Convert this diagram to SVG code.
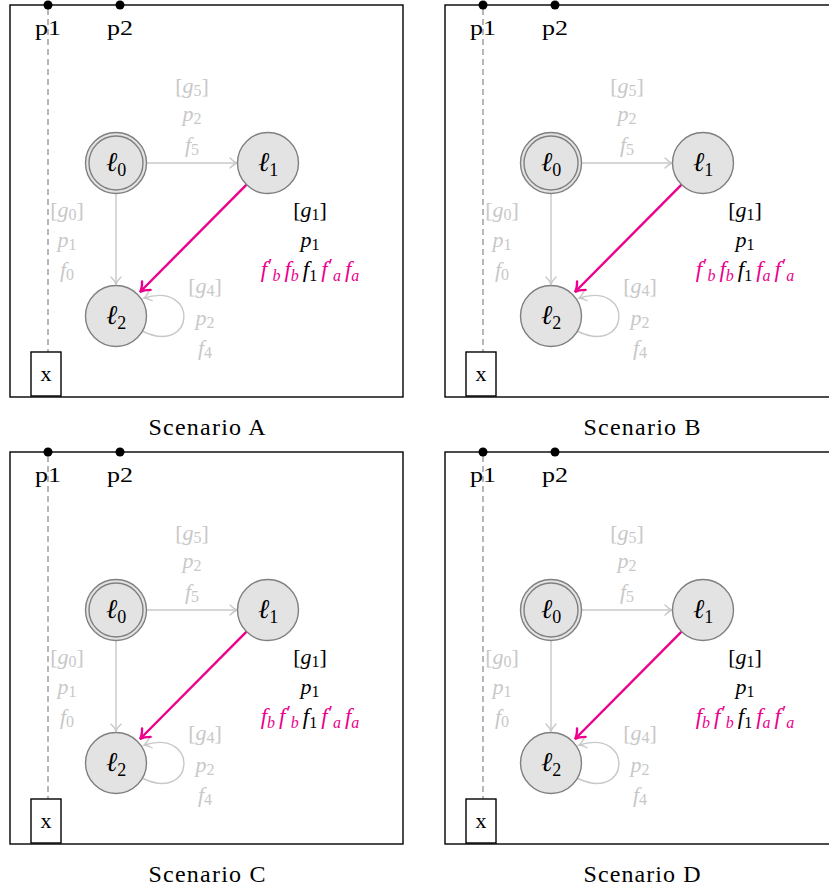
<svg xmlns="http://www.w3.org/2000/svg" width="829" height="892" viewBox="0 0 829 892">
  <style>
    .frame { fill: none; stroke: #000; stroke-width: 1.4; }
    .pin { fill: #000; }
    .rm { font-family: "Liberation Serif", "DejaVu Serif", serif; font-size: 22px; fill: #000; text-anchor: middle; }
    .cap { font-family: "Liberation Serif", "DejaVu Serif", serif; font-size: 24px; fill: #000; text-anchor: middle; }
    .life { stroke: #999; stroke-width: 1.4; stroke-dasharray: 6 4; fill: none; }
    .xbox { fill: #fff; stroke: #000; stroke-width: 1.4; }
    .loc circle { fill: #e3e3e3; stroke: #808080; stroke-width: 1.4; }
    .loc .ring { fill: none; }
    .nm { font-family: "Liberation Serif", "DejaVu Serif", serif; font-size: 27px; fill: #000; text-anchor: middle; }
    .nm .sb { font-size: 18px; }
    .it { font-style: italic; }
    .sb { font-size: 16px; font-style: normal; }
    .sbi { font-size: 16px; font-style: italic; }
    .pr { font-size: 20px; font-style: normal; }
    .lbl { font-family: "Liberation Serif", "DejaVu Serif", serif; font-size: 22px; text-anchor: middle; }
    .fx { font-size: 23px; }
    .dim { fill: #c8c8c8; }
    .blk { fill: #000; }
    .mag { fill: #ec008c; }
    .edge { fill: none; stroke: #c8c8c8; stroke-width: 1.4; marker-end: url(#tip-gray); }
    .hot { fill: none; stroke: #ec008c; stroke-width: 2.4; marker-end: url(#tip-mag); }
  </style>
  <defs>
    <marker id="tip-gray" markerUnits="userSpaceOnUse" viewBox="-10 -7 12 14" markerWidth="12" markerHeight="14" refX="0" refY="0" orient="auto">
      <path d="M -7,-5 Q -3,-1 0,0 Q -3,1 -7,5" fill="none" stroke="#c8c8c8" stroke-width="1.4" stroke-linecap="round"/>
    </marker>
    <marker id="tip-mag" markerUnits="userSpaceOnUse" viewBox="-12 -8 14 16" markerWidth="14" markerHeight="16" refX="0" refY="0" orient="auto">
      <path d="M -9,-6 Q -4,-1 0,0 Q -4,1 -9,6" fill="none" stroke="#ec008c" stroke-width="2.4" stroke-linecap="round"/>
    </marker>
  </defs>

  <!-- Scenario A -->
  <g id="scenario-a" transform="translate(10,5)">
    <rect class="frame" x="0" y="0" width="393" height="392"/>
    <path class="life" d="M38,4 V347"/>
    <circle class="pin" cx="38" cy="0" r="4.5"/>
    <circle class="pin" cx="110" cy="0" r="4.5"/>
    <text class="rm" x="38" y="30" textLength="26" lengthAdjust="spacingAndGlyphs">p1</text>
    <text class="rm" x="110" y="30" textLength="26" lengthAdjust="spacingAndGlyphs">p2</text>
    <g id="a-x"><rect class="xbox" x="21" y="347" width="30" height="44"/><text class="rm" x="36" y="376">x</text></g>
    <g id="a-edges">
      <path class="edge" d="M137,158 H227"/>
      <path class="edge" d="M106,189 V279"/>
      <path class="edge" d="M132,326 C185,352 190,276 134,293"/>
      <path class="hot" d="M236.8,179.3 L130,287"/>
    </g>
    <g id="a-l0" class="loc"><circle cx="106" cy="158" r="30.5"/><circle class="ring" cx="106" cy="158" r="27"/><text class="nm" x="106" y="166"><tspan class="it">ℓ</tspan><tspan class="sb" dy="5">0</tspan></text></g>
    <g id="a-l1" class="loc"><circle cx="258" cy="158" r="30.5"/><text class="nm" x="258" y="166"><tspan class="it">ℓ</tspan><tspan class="sb" dy="5">1</tspan></text></g>
    <g id="a-l2" class="loc"><circle cx="106" cy="311" r="30.5"/><text class="nm" x="106" y="319"><tspan class="it">ℓ</tspan><tspan class="sb" dy="5">2</tspan></text></g>
    <g id="a-labels">
      <text class="lbl dim" x="182" y="88">[<tspan class="it">g</tspan><tspan class="sb" dy="3">5</tspan><tspan dy="-3">]</tspan></text>
      <text class="lbl dim" x="182" y="116"><tspan class="it">p</tspan><tspan class="sb" dy="3">2</tspan></text>
      <text class="lbl dim" x="182" y="147"><tspan class="it">f</tspan><tspan class="sb" dy="3">5</tspan></text>
      <text class="lbl dim" x="57" y="212">[<tspan class="it">g</tspan><tspan class="sb" dy="3">0</tspan><tspan dy="-3">]</tspan></text>
      <text class="lbl dim" x="57" y="242"><tspan class="it">p</tspan><tspan class="sb" dy="3">1</tspan></text>
      <text class="lbl dim" x="57" y="272"><tspan class="it">f</tspan><tspan class="sb" dy="3">0</tspan></text>
      <text class="lbl dim" x="195" y="288">[<tspan class="it">g</tspan><tspan class="sb" dy="3">4</tspan><tspan dy="-3">]</tspan></text>
      <text class="lbl dim" x="195" y="320"><tspan class="it">p</tspan><tspan class="sb" dy="3">2</tspan></text>
      <text class="lbl dim" x="195" y="350"><tspan class="it">f</tspan><tspan class="sb" dy="3">4</tspan></text>
      <text class="lbl blk" x="300" y="212">[<tspan class="it">g</tspan><tspan class="sb" dy="3">1</tspan><tspan dy="-3">]</tspan></text>
      <text class="lbl blk" x="300" y="242"><tspan class="it">p</tspan><tspan class="sb" dy="3">1</tspan></text>
      <text class="lbl fx" x="300" y="272"><tspan class="it mag">f</tspan><tspan class="pr mag" dx="1" dy="-4">′</tspan><tspan class="sbi mag" dy="8">b</tspan><tspan class="it mag" dx="4" dy="-4">f</tspan><tspan class="sbi mag" dy="4">b</tspan><tspan class="it blk" dx="4" dy="-4">f</tspan><tspan class="sb blk" dy="4">1</tspan><tspan class="it mag" dx="4" dy="-4">f</tspan><tspan class="pr mag" dx="1" dy="-4">′</tspan><tspan class="sbi mag" dy="8">a</tspan><tspan class="it mag" dx="4" dy="-4">f</tspan><tspan class="sbi mag" dy="4">a</tspan></text>
    </g>
  </g>
  <text class="cap" x="207" y="435" textLength="117" lengthAdjust="spacing">Scenario A</text>

  <!-- Scenario B -->
  <g id="scenario-b" transform="translate(445,5)">
    <rect class="frame" x="0" y="0" width="393" height="392"/>
    <path class="life" d="M38,4 V347"/>
    <circle class="pin" cx="38" cy="0" r="4.5"/>
    <circle class="pin" cx="110" cy="0" r="4.5"/>
    <text class="rm" x="38" y="30" textLength="26" lengthAdjust="spacingAndGlyphs">p1</text>
    <text class="rm" x="110" y="30" textLength="26" lengthAdjust="spacingAndGlyphs">p2</text>
    <g id="b-x"><rect class="xbox" x="21" y="347" width="30" height="44"/><text class="rm" x="36" y="376">x</text></g>
    <g id="b-edges">
      <path class="edge" d="M137,158 H227"/>
      <path class="edge" d="M106,189 V279"/>
      <path class="edge" d="M132,326 C185,352 190,276 134,293"/>
      <path class="hot" d="M236.8,179.3 L130,287"/>
    </g>
    <g id="b-l0" class="loc"><circle cx="106" cy="158" r="30.5"/><circle class="ring" cx="106" cy="158" r="27"/><text class="nm" x="106" y="166"><tspan class="it">ℓ</tspan><tspan class="sb" dy="5">0</tspan></text></g>
    <g id="b-l1" class="loc"><circle cx="258" cy="158" r="30.5"/><text class="nm" x="258" y="166"><tspan class="it">ℓ</tspan><tspan class="sb" dy="5">1</tspan></text></g>
    <g id="b-l2" class="loc"><circle cx="106" cy="311" r="30.5"/><text class="nm" x="106" y="319"><tspan class="it">ℓ</tspan><tspan class="sb" dy="5">2</tspan></text></g>
    <g id="b-labels">
      <text class="lbl dim" x="182" y="88">[<tspan class="it">g</tspan><tspan class="sb" dy="3">5</tspan><tspan dy="-3">]</tspan></text>
      <text class="lbl dim" x="182" y="116"><tspan class="it">p</tspan><tspan class="sb" dy="3">2</tspan></text>
      <text class="lbl dim" x="182" y="147"><tspan class="it">f</tspan><tspan class="sb" dy="3">5</tspan></text>
      <text class="lbl dim" x="57" y="212">[<tspan class="it">g</tspan><tspan class="sb" dy="3">0</tspan><tspan dy="-3">]</tspan></text>
      <text class="lbl dim" x="57" y="242"><tspan class="it">p</tspan><tspan class="sb" dy="3">1</tspan></text>
      <text class="lbl dim" x="57" y="272"><tspan class="it">f</tspan><tspan class="sb" dy="3">0</tspan></text>
      <text class="lbl dim" x="195" y="288">[<tspan class="it">g</tspan><tspan class="sb" dy="3">4</tspan><tspan dy="-3">]</tspan></text>
      <text class="lbl dim" x="195" y="320"><tspan class="it">p</tspan><tspan class="sb" dy="3">2</tspan></text>
      <text class="lbl dim" x="195" y="350"><tspan class="it">f</tspan><tspan class="sb" dy="3">4</tspan></text>
      <text class="lbl blk" x="300" y="212">[<tspan class="it">g</tspan><tspan class="sb" dy="3">1</tspan><tspan dy="-3">]</tspan></text>
      <text class="lbl blk" x="300" y="242"><tspan class="it">p</tspan><tspan class="sb" dy="3">1</tspan></text>
      <text class="lbl fx" x="300" y="272"><tspan class="it mag">f</tspan><tspan class="pr mag" dx="1" dy="-4">′</tspan><tspan class="sbi mag" dy="8">b</tspan><tspan class="it mag" dx="4" dy="-4">f</tspan><tspan class="sbi mag" dy="4">b</tspan><tspan class="it blk" dx="4" dy="-4">f</tspan><tspan class="sb blk" dy="4">1</tspan><tspan class="it mag" dx="4" dy="-4">f</tspan><tspan class="sbi mag" dy="4">a</tspan><tspan class="it mag" dx="4" dy="-4">f</tspan><tspan class="pr mag" dx="1" dy="-4">′</tspan><tspan class="sbi mag" dy="8">a</tspan></text>
    </g>
  </g>
  <text class="cap" x="642" y="435" textLength="117" lengthAdjust="spacing">Scenario B</text>

  <!-- Scenario C -->
  <g id="scenario-c" transform="translate(10,452)">
    <rect class="frame" x="0" y="0" width="393" height="392"/>
    <path class="life" d="M38,4 V347"/>
    <circle class="pin" cx="38" cy="0" r="4.5"/>
    <circle class="pin" cx="110" cy="0" r="4.5"/>
    <text class="rm" x="38" y="30" textLength="26" lengthAdjust="spacingAndGlyphs">p1</text>
    <text class="rm" x="110" y="30" textLength="26" lengthAdjust="spacingAndGlyphs">p2</text>
    <g id="c-x"><rect class="xbox" x="21" y="347" width="30" height="44"/><text class="rm" x="36" y="376">x</text></g>
    <g id="c-edges">
      <path class="edge" d="M137,158 H227"/>
      <path class="edge" d="M106,189 V279"/>
      <path class="edge" d="M132,326 C185,352 190,276 134,293"/>
      <path class="hot" d="M236.8,179.3 L130,287"/>
    </g>
    <g id="c-l0" class="loc"><circle cx="106" cy="158" r="30.5"/><circle class="ring" cx="106" cy="158" r="27"/><text class="nm" x="106" y="166"><tspan class="it">ℓ</tspan><tspan class="sb" dy="5">0</tspan></text></g>
    <g id="c-l1" class="loc"><circle cx="258" cy="158" r="30.5"/><text class="nm" x="258" y="166"><tspan class="it">ℓ</tspan><tspan class="sb" dy="5">1</tspan></text></g>
    <g id="c-l2" class="loc"><circle cx="106" cy="311" r="30.5"/><text class="nm" x="106" y="319"><tspan class="it">ℓ</tspan><tspan class="sb" dy="5">2</tspan></text></g>
    <g id="c-labels">
      <text class="lbl dim" x="182" y="88">[<tspan class="it">g</tspan><tspan class="sb" dy="3">5</tspan><tspan dy="-3">]</tspan></text>
      <text class="lbl dim" x="182" y="116"><tspan class="it">p</tspan><tspan class="sb" dy="3">2</tspan></text>
      <text class="lbl dim" x="182" y="147"><tspan class="it">f</tspan><tspan class="sb" dy="3">5</tspan></text>
      <text class="lbl dim" x="57" y="212">[<tspan class="it">g</tspan><tspan class="sb" dy="3">0</tspan><tspan dy="-3">]</tspan></text>
      <text class="lbl dim" x="57" y="242"><tspan class="it">p</tspan><tspan class="sb" dy="3">1</tspan></text>
      <text class="lbl dim" x="57" y="272"><tspan class="it">f</tspan><tspan class="sb" dy="3">0</tspan></text>
      <text class="lbl dim" x="195" y="288">[<tspan class="it">g</tspan><tspan class="sb" dy="3">4</tspan><tspan dy="-3">]</tspan></text>
      <text class="lbl dim" x="195" y="320"><tspan class="it">p</tspan><tspan class="sb" dy="3">2</tspan></text>
      <text class="lbl dim" x="195" y="350"><tspan class="it">f</tspan><tspan class="sb" dy="3">4</tspan></text>
      <text class="lbl blk" x="300" y="212">[<tspan class="it">g</tspan><tspan class="sb" dy="3">1</tspan><tspan dy="-3">]</tspan></text>
      <text class="lbl blk" x="300" y="242"><tspan class="it">p</tspan><tspan class="sb" dy="3">1</tspan></text>
      <text class="lbl fx" x="300" y="272"><tspan class="it mag">f</tspan><tspan class="sbi mag" dy="4">b</tspan><tspan class="it mag" dx="4" dy="-4">f</tspan><tspan class="pr mag" dx="1" dy="-4">′</tspan><tspan class="sbi mag" dy="8">b</tspan><tspan class="it blk" dx="4" dy="-4">f</tspan><tspan class="sb blk" dy="4">1</tspan><tspan class="it mag" dx="4" dy="-4">f</tspan><tspan class="pr mag" dx="1" dy="-4">′</tspan><tspan class="sbi mag" dy="8">a</tspan><tspan class="it mag" dx="4" dy="-4">f</tspan><tspan class="sbi mag" dy="4">a</tspan></text>
    </g>
  </g>
  <text class="cap" x="207" y="882" textLength="117" lengthAdjust="spacing">Scenario C</text>

  <!-- Scenario D -->
  <g id="scenario-d" transform="translate(445,452)">
    <rect class="frame" x="0" y="0" width="393" height="392"/>
    <path class="life" d="M38,4 V347"/>
    <circle class="pin" cx="38" cy="0" r="4.5"/>
    <circle class="pin" cx="110" cy="0" r="4.5"/>
    <text class="rm" x="38" y="30" textLength="26" lengthAdjust="spacingAndGlyphs">p1</text>
    <text class="rm" x="110" y="30" textLength="26" lengthAdjust="spacingAndGlyphs">p2</text>
    <g id="d-x"><rect class="xbox" x="21" y="347" width="30" height="44"/><text class="rm" x="36" y="376">x</text></g>
    <g id="d-edges">
      <path class="edge" d="M137,158 H227"/>
      <path class="edge" d="M106,189 V279"/>
      <path class="edge" d="M132,326 C185,352 190,276 134,293"/>
      <path class="hot" d="M236.8,179.3 L130,287"/>
    </g>
    <g id="d-l0" class="loc"><circle cx="106" cy="158" r="30.5"/><circle class="ring" cx="106" cy="158" r="27"/><text class="nm" x="106" y="166"><tspan class="it">ℓ</tspan><tspan class="sb" dy="5">0</tspan></text></g>
    <g id="d-l1" class="loc"><circle cx="258" cy="158" r="30.5"/><text class="nm" x="258" y="166"><tspan class="it">ℓ</tspan><tspan class="sb" dy="5">1</tspan></text></g>
    <g id="d-l2" class="loc"><circle cx="106" cy="311" r="30.5"/><text class="nm" x="106" y="319"><tspan class="it">ℓ</tspan><tspan class="sb" dy="5">2</tspan></text></g>
    <g id="d-labels">
      <text class="lbl dim" x="182" y="88">[<tspan class="it">g</tspan><tspan class="sb" dy="3">5</tspan><tspan dy="-3">]</tspan></text>
      <text class="lbl dim" x="182" y="116"><tspan class="it">p</tspan><tspan class="sb" dy="3">2</tspan></text>
      <text class="lbl dim" x="182" y="147"><tspan class="it">f</tspan><tspan class="sb" dy="3">5</tspan></text>
      <text class="lbl dim" x="57" y="212">[<tspan class="it">g</tspan><tspan class="sb" dy="3">0</tspan><tspan dy="-3">]</tspan></text>
      <text class="lbl dim" x="57" y="242"><tspan class="it">p</tspan><tspan class="sb" dy="3">1</tspan></text>
      <text class="lbl dim" x="57" y="272"><tspan class="it">f</tspan><tspan class="sb" dy="3">0</tspan></text>
      <text class="lbl dim" x="195" y="288">[<tspan class="it">g</tspan><tspan class="sb" dy="3">4</tspan><tspan dy="-3">]</tspan></text>
      <text class="lbl dim" x="195" y="320"><tspan class="it">p</tspan><tspan class="sb" dy="3">2</tspan></text>
      <text class="lbl dim" x="195" y="350"><tspan class="it">f</tspan><tspan class="sb" dy="3">4</tspan></text>
      <text class="lbl blk" x="300" y="212">[<tspan class="it">g</tspan><tspan class="sb" dy="3">1</tspan><tspan dy="-3">]</tspan></text>
      <text class="lbl blk" x="300" y="242"><tspan class="it">p</tspan><tspan class="sb" dy="3">1</tspan></text>
      <text class="lbl fx" x="300" y="272"><tspan class="it mag">f</tspan><tspan class="sbi mag" dy="4">b</tspan><tspan class="it mag" dx="4" dy="-4">f</tspan><tspan class="pr mag" dx="1" dy="-4">′</tspan><tspan class="sbi mag" dy="8">b</tspan><tspan class="it blk" dx="4" dy="-4">f</tspan><tspan class="sb blk" dy="4">1</tspan><tspan class="it mag" dx="4" dy="-4">f</tspan><tspan class="sbi mag" dy="4">a</tspan><tspan class="it mag" dx="4" dy="-4">f</tspan><tspan class="pr mag" dx="1" dy="-4">′</tspan><tspan class="sbi mag" dy="8">a</tspan></text>
    </g>
  </g>
  <text class="cap" x="642" y="882" textLength="117" lengthAdjust="spacing">Scenario D</text>
</svg>
